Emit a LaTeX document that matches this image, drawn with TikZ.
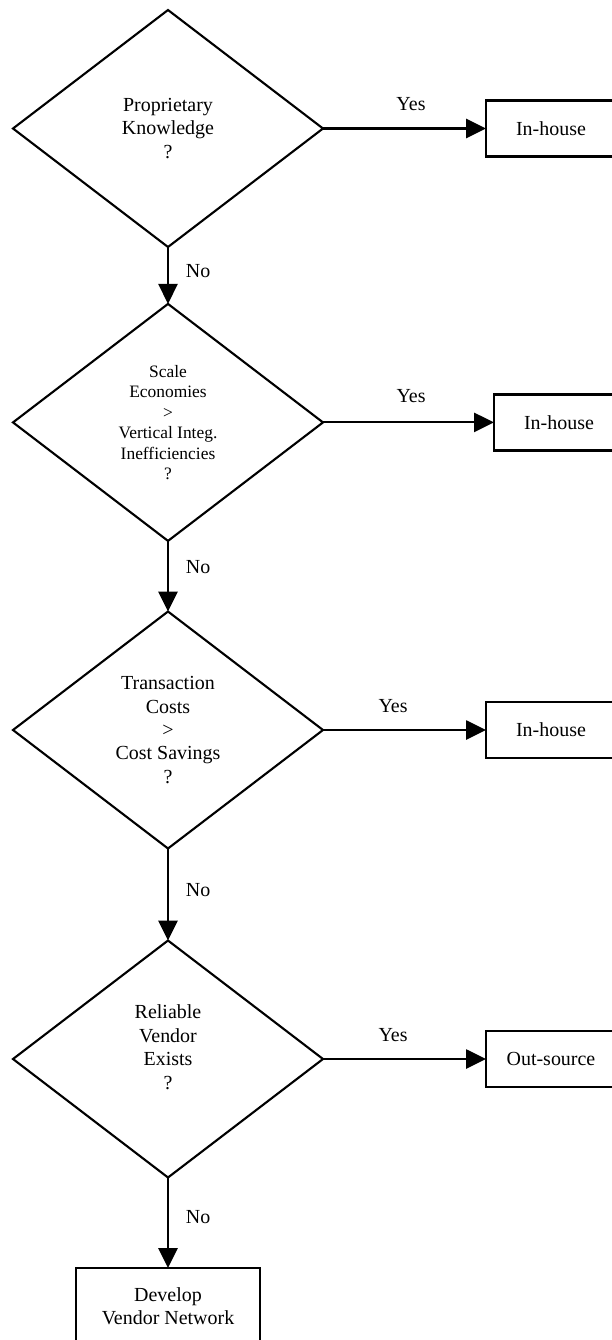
\documentclass[tikz,border=0pt]{standalone}
\usepackage{fontspec}
\setmainfont{Liberation Serif}
\usetikzlibrary{arrows.meta,positioning,shapes.geometric}
\newcommand{\flowsize}{\fontsize{14.2pt}{16.7pt}\selectfont}
\newcommand{\smallflowsize}{\fontsize{12.4pt}{14.6pt}\selectfont}

\begin{document}
\begin{tikzpicture}[
    node distance=4.075cm,
    decision/.style={diamond, draw, line width=1.5pt, aspect=1.31, minimum width=7.75cm, minimum height=5.925cm, inner sep=0pt, outer sep=0pt, align=center, font=\flowsize},
    outcome/.style={rectangle, draw, line width=2pt, minimum width=3.25cm, minimum height=1.4cm, inner sep=0pt, outer sep=0pt, align=center, font=\flowsize},
    flow/.style={-{Triangle[length=0.5cm, width=0.48cm]}, line width=1.5pt},
    elab/.style={font=\flowsize, inner sep=0pt}
]
\useasboundingbox (0,0) rectangle (15.3,-33.5);

% ============ decisions ============
\node[decision] (know) at (4.2,-3.2125) {Proprietary\\Knowledge\\?};
\node[decision, font=\smallflowsize] (scale) at (4.2,-10.56) {Scale\\Economies\\>\\Vertical Integ.\\Inefficiencies\\?};
\node[decision] (trans) at (4.2,-18.25) {Transaction\\Costs\\>\\Cost Savings\\?};
\node[decision] (vendor) at (4.2,-26.475) {Reliable\\Vendor\\Exists\\?\\\mbox{}};

% ============ outcomes ============
\node[outcome, right=of know] (know-yes) {In-house};
\node[outcome, right=4.275cm of scale] (scale-yes) {In-house};
\node[outcome, right=of trans] (trans-yes) {In-house};
\node[outcome, right=of vendor] (vendor-yes) {Out-source};
\node[outcome, below=2.2625cm of vendor, minimum width=4.6cm, minimum height=1.9cm] (develop) {Develop\\Vendor Network};

% ============ connectors ============
\draw[flow] (know) -- node[elab, pos=0.54, above=0.41cm] {Yes} (know-yes);
\draw[flow] (scale) -- node[elab, pos=0.515, above=0.47cm] {Yes} (scale-yes);
\draw[flow] (trans) -- node[elab, pos=0.43, above=0.41cm] {Yes} (trans-yes);
\draw[flow] (vendor) -- node[elab, pos=0.43, above=0.41cm] {Yes} (vendor-yes);

\draw[flow] (know) -- node[elab, pos=0.43, right=0.42cm] {No} (scale);
\draw[flow] (scale) -- node[elab, pos=0.375, right=0.42cm] {No} (trans);
\draw[flow] (trans) -- node[elab, pos=0.45, right=0.42cm] {No} (vendor);
\draw[flow] (vendor) -- node[elab, pos=0.44, right=0.42cm] {No} (develop);

\end{tikzpicture}
\end{document}
